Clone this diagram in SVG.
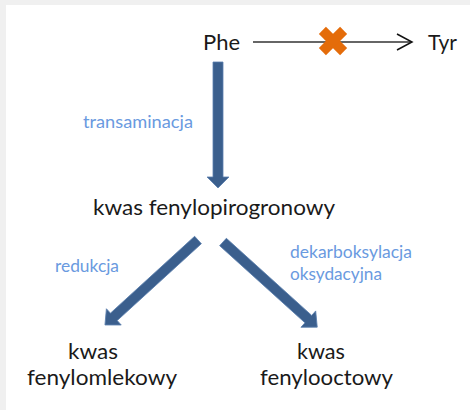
<svg xmlns="http://www.w3.org/2000/svg" width="470" height="410" viewBox="0 0 470 410">
<style>
.main{font-family:Lato,"Liberation Sans",sans-serif;font-size:21px;fill:#1a1a1a}
.lbl{font-family:Lato,"Liberation Sans",sans-serif;font-size:16.5px;fill:#6a9ae0}
.arr{fill:#3b5f8d;stroke:#5b7fae;stroke-width:0.8}
</style>
<rect x="0" y="0" width="470" height="410" fill="#f0f0f0"/>
<rect x="6" y="5" width="464" height="405" fill="#ffffff"/>
<g id="connectors">
<line x1="253" y1="42" x2="411" y2="42" stroke="#333" stroke-width="1.5"/>
<polyline points="397,34 412,42 397,50" fill="none" stroke="#111" stroke-width="1.5"/>
<g id="block" fill="#e46c0a">
<rect x="318" y="36" width="30" height="10" transform="rotate(45 333 41)"/>
<rect x="318" y="36" width="30" height="10" transform="rotate(-45 333 41)"/>
</g>
<polygon class="arr" points="213,62 223,62 223,177 229,177 218,188 207,177 213,177"/>
<polygon class="arr" transform="translate(198 240) rotate(137.6)" points="0,-5 114,-5 114,-11 126,0 114,11 114,5 0,5"/>
<polygon class="arr" transform="translate(223 242) rotate(42.1)" points="0,-5 115,-5 115,-11 127,0 115,11 115,5 0,5"/>
<text class="lbl" x="83" y="128" textLength="110" lengthAdjust="spacingAndGlyphs">transaminacja</text>
<text class="lbl" x="55" y="272" textLength="64" lengthAdjust="spacingAndGlyphs">redukcja</text>
<text class="lbl" x="290" y="258" textLength="122" lengthAdjust="spacingAndGlyphs">dekarboksylacja</text>
<text class="lbl" x="290" y="280" textLength="92" lengthAdjust="spacingAndGlyphs">oksydacyjna</text>
</g>
<g id="phe"><text class="main" x="203" y="50" textLength="37" lengthAdjust="spacingAndGlyphs">Phe</text></g>
<g id="tyr"><text class="main" x="428" y="50" textLength="29" lengthAdjust="spacingAndGlyphs">Tyr</text></g>
<g id="pirogronowy"><text class="main" x="93" y="215" textLength="242" lengthAdjust="spacingAndGlyphs">kwas fenylopirogronowy</text></g>
<g id="fenylomlekowy"><text class="main" x="68" y="359" textLength="50" lengthAdjust="spacingAndGlyphs">kwas</text><text class="main" x="27" y="385" textLength="150" lengthAdjust="spacingAndGlyphs">fenylomlekowy</text></g>
<g id="fenylooctowy"><text class="main" x="297" y="359" textLength="48" lengthAdjust="spacingAndGlyphs">kwas</text><text class="main" x="260" y="385" textLength="133" lengthAdjust="spacingAndGlyphs">fenylooctowy</text></g>
</svg>
